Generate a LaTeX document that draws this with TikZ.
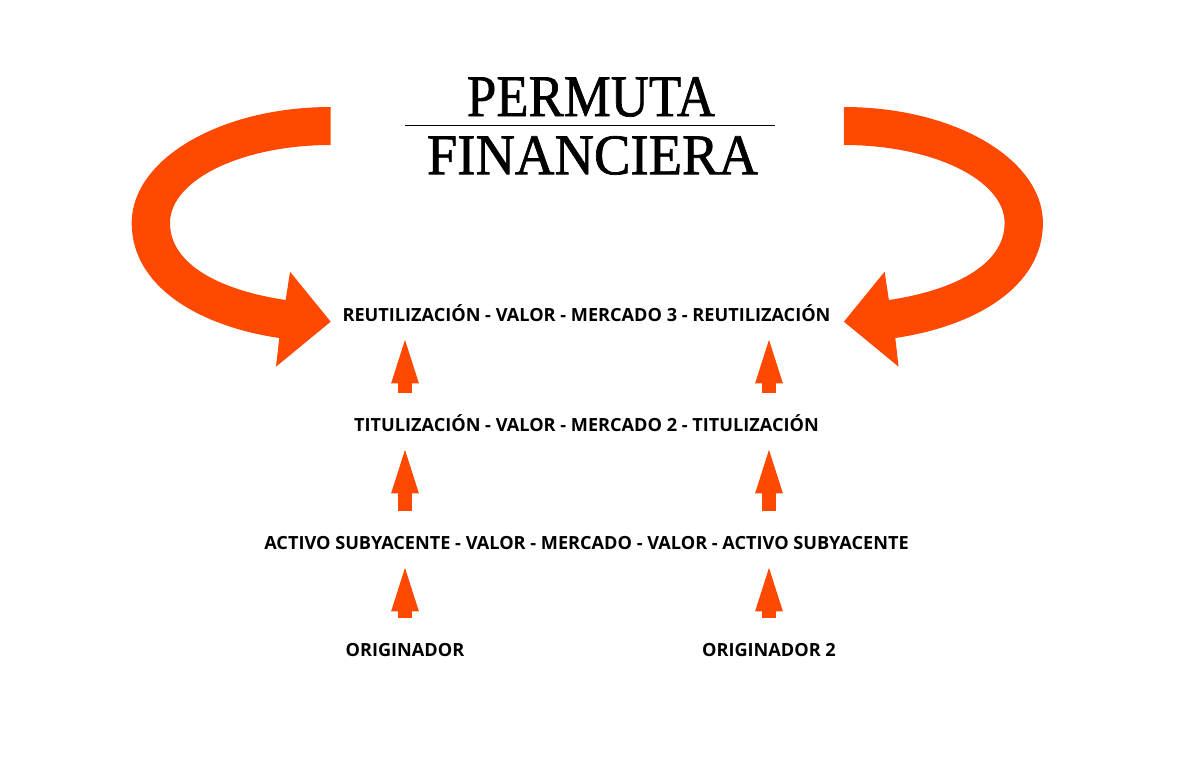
\documentclass[tikz,border=0pt]{standalone}
\usepackage{fontspec}
\setmainfont{Open Sans}
\newfontfamily\titlefont[FakeBold=1.2]{Liberation Serif}
\usepackage{graphicx}
\usetikzlibrary{arrows.meta,positioning}
\definecolor{flame}{RGB}{255,72,0}

% curved arrow: #1 = mirror offset, #2 = sign
\newcommand\swoopat[2]{%
  \fill[flame] ({#1+#2*330.7},107) .. controls ({#1+#2*220.8},107) and ({#1+#2*131.7},158.9) .. ({#1+#2*131.7},223)
    .. controls ({#1+#2*131.7},286.5) and ({#1+#2*198.7},326.1) .. ({#1+#2*279.3},338)
    -- ({#1+#2*276},366.7) -- ({#1+#2*330.7},321.7) -- ({#1+#2*290},271.7) -- ({#1+#2*285.7},300)
    .. controls ({#1+#2*222.5},290.7) and ({#1+#2*170},265.5) .. ({#1+#2*170},223)
    .. controls ({#1+#2*170},179.9) and ({#1+#2*241.9},145) .. ({#1+#2*330.7},145) -- cycle;}

\begin{document}
\begin{tikzpicture}[x=0.025cm,y=-0.025cm]
\tikzset{lbl/.style={font=\bfseries\fontsize{12.9}{15}\selectfont,inner sep=0pt,anchor=base,text height=9.2pt,text depth=0pt},
  uparrow/.style={flame,line width=9.57pt,-{Triangle[width=19.8pt,length=31pt,line width=0pt]},shorten <=17.7pt,shorten >=13.2pt}}
\useasboundingbox (0,0) rectangle (1180,776);
% title
\node[inner sep=0pt,anchor=south] (perm) at (591,117) {\titlefont\resizebox{6.2cm}{0.975cm}{PERMUTA}};
\node[inner sep=0pt,anchor=south] (fin) at (592.5,175) {\titlefont\resizebox{8.275cm}{0.95cm}{FINANCIERA}};
\draw[line width=1pt] (405,125.7) -- (775,125.7);
% curved arrows
\swoopat{0}{1}
\swoopat{1174.6}{-1}
% rows
\node[lbl] (reut) at (586.5,321) {REUTILIZACIÓN - VALOR - MERCADO 3 - REUTILIZACIÓN};
\node[lbl] (titu) at (586.5,431) {TITULIZACIÓN - VALOR - MERCADO 2 - TITULIZACIÓN};
\node[lbl] (activo) at (586.5,549) {ACTIVO SUBYACENTE - VALOR - MERCADO - VALOR - ACTIVO SUBYACENTE};
\node[lbl] (orig1) at (405,656) {ORIGINADOR};
\node[lbl] (orig2) at (769,656) {ORIGINADOR 2};
% straight arrows
\foreach \o in {orig1,orig2}{
  \draw[uparrow] (\o.north) -- (\o.north |- activo.south);
  \draw[uparrow] (\o.north |- activo.north) -- (\o.north |- titu.south);
  \draw[uparrow] (\o.north |- titu.north) -- (\o.north |- reut.south);
}
\end{tikzpicture}
\end{document}
